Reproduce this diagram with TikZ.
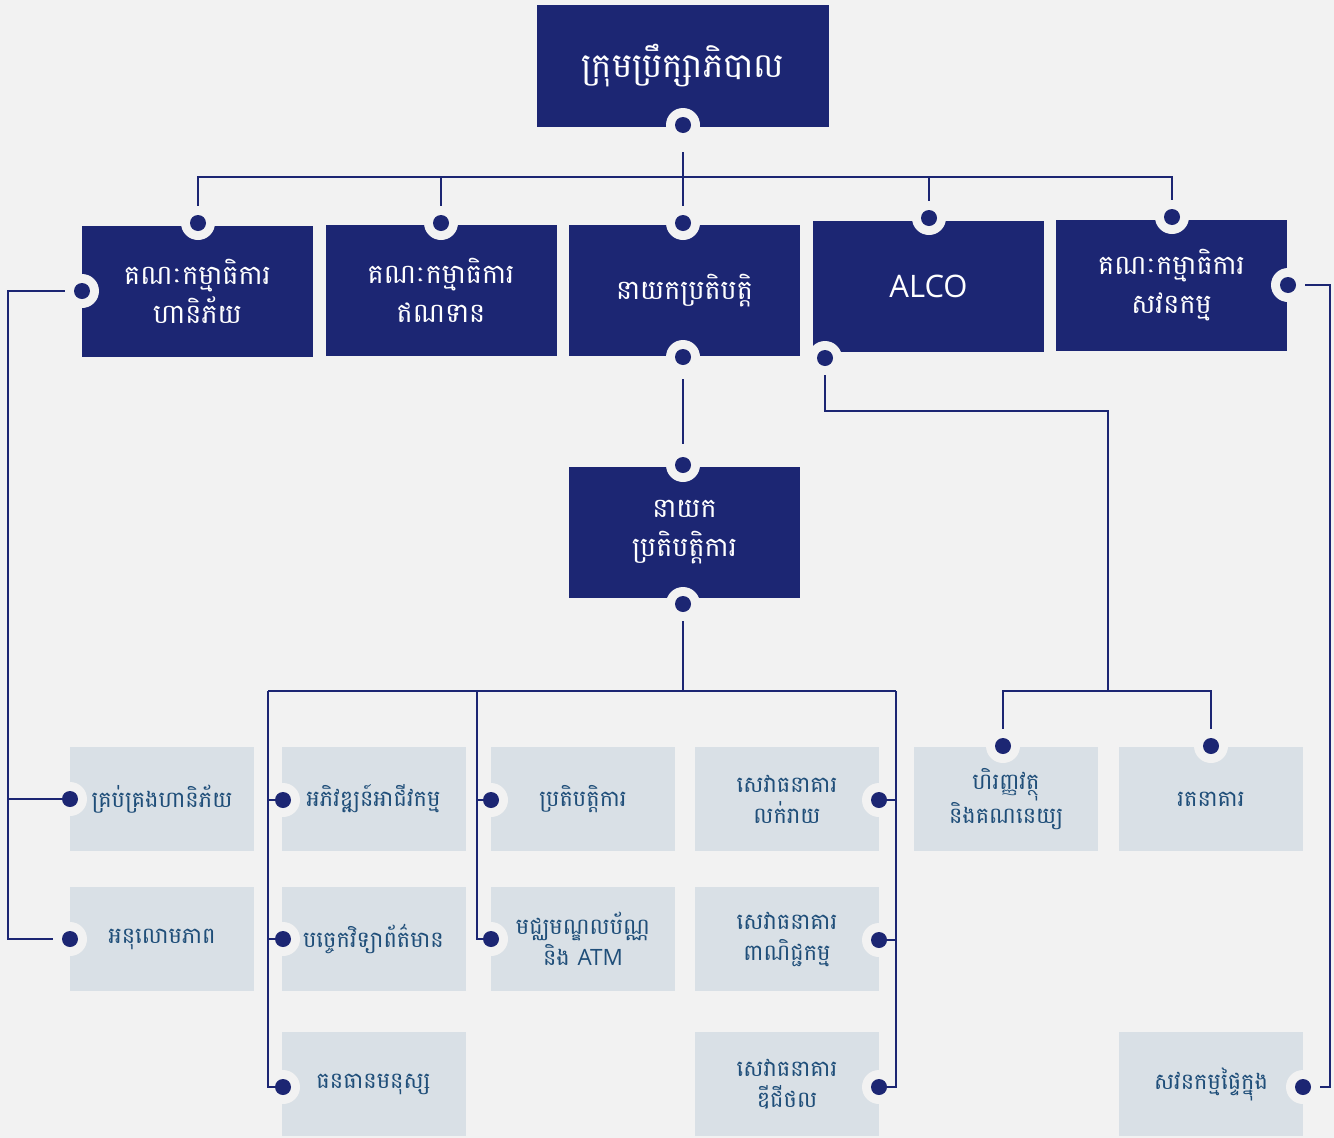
\documentclass[tikz,border=0pt]{standalone}
\usepackage{fontspec}
\newfontfamily\kh[Script=Khmer]{Battambang}
\newfontfamily\latfont{Open Sans}
\definecolor{bg}{HTML}{F2F2F2}
\definecolor{navy}{HTML}{1C2673}
\definecolor{lightbox}{HTML}{D9E0E6}
\definecolor{ltext}{HTML}{1F4E79}
\begin{document}
\begin{tikzpicture}[x=1pt,y=-1pt,
  darkbox/.style={fill=navy, minimum width=231, minimum height=131, text=white, align=center, inner sep=0, font=\kh\fontsize{27}{39}\selectfont},
  topbox/.style={darkbox, minimum width=292, minimum height=122, font=\kh\fontsize{34}{40}\selectfont},
  litebox/.style={fill=lightbox, minimum width=184, minimum height=104, text=ltext, align=center, inner sep=0, font=\kh\fontsize{22.5}{31}\selectfont},
  ring/.style={circle, fill=bg, minimum size=34, inner sep=0},
  dot/.style={circle, fill=navy, minimum size=16, inner sep=0},
  conn/.style={draw=navy, line width=2}]
\fill[bg] (0,0) rectangle (1334,1138);
% boxes
\node[topbox] (board) at (683,66) {\raisebox{3pt}{ក្រុមប្រឹក្សាភិបាល}};
\node[darkbox] (risk) at (197.5,291.5) {គណៈកម្មាធិការ\\ហានិភ័យ};
\node[darkbox] (credit) at (441,290.5) {គណៈកម្មាធិការ\\ឥណទាន};
\node[darkbox] (ceo) at (684.5,290.5) {នាយកប្រតិបត្តិ};
\node[darkbox, font=\latfont\fontsize{31}{34}\selectfont] (alco) at (928.5,286.5) {ALCO};
\node[darkbox] (audit) at (1171.5,285.5) {គណៈកម្មាធិការ\\សវនកម្ម};
\node[darkbox] (coo) at (684.5,532.5) {នាយក\\ប្រតិបត្តិការ};
\node[litebox] (l11) at (162,799) {គ្រប់គ្រងហានិភ័យ};
\node[litebox] (l12) at (162,939) {អនុលោមភាព};
\node[litebox] (l21) at (373.5,799) {អភិវឌ្ឍន៍អាជីវកម្ម};
\node[litebox] (l22) at (373.5,939) {បច្ចេកវិទ្យាព័ត៌មាន};
\node[litebox] (l23) at (373.5,1084) {ធនធានមនុស្ស};
\node[litebox] (l31) at (583,799) {ប្រតិបត្តិការ};
\node[litebox] (l32) at (583,939) {មជ្ឈមណ្ឌលប័ណ្ណ\\និង {\latfont ATM}};
\node[litebox] (l41) at (787,799) {សេវាធនាគារ\\លក់រាយ};
\node[litebox] (l42) at (787,939) {សេវាធនាគារ\\ពាណិជ្ជកម្ម};
\node[litebox] (l43) at (787,1084) {សេវាធនាគារ\\ឌីជីថល};
\node[litebox] (l51) at (1006,799) {ហិរញ្ញវត្ថុ\\និងគណនេយ្យ};
\node[litebox] (l61) at (1211,799) {រតនាគារ};
\node[litebox] (l62) at (1211,1084) {សវនកម្មផ្ទៃក្នុង};
% knobs: ring + dot
\foreach \n/\p in {kb/{683,125}, k1/{198,223}, k1l/{82,291}, k2/{441,223}, k3/{683,223}, k3b/{683,357},
  k4/{929,218}, k4b/{825,358}, k5/{1172,217}, k5r/{1288,285}, k6/{683,465}, k6b/{683,604},
  k11/{70,799}, k12/{70,939}, k21/{283,800}, k22/{283,939}, k23/{283,1087},
  k31/{491,800}, k32/{491,939}, k41/{879,800}, k42/{879,940}, k43/{879,1087},
  k51/{1003,746}, k61/{1211,746}, k62/{1303,1087}} {
  \node[ring] (\n) at (\p) {};
  \node[dot] (\n d) at (\p) {};
}
\coordinate (bus) at (0,177);
\coordinate (bus2) at (0,691);
\coordinate (alc) at (0,411);
\coordinate (jn) at (1108,691);
\coordinate (lx) at (8,0);
\coordinate (rx) at (1330,0);
\coordinate (v1) at (268,691);
\coordinate (v2) at (477,691);
\coordinate (v3) at (896,691);
% board to committees
\path[conn] ([yshift=-10]kb.south) -- (kb|-bus);
\path[conn] (k1) -- (k1|-bus) -- (k5|-bus) -- (k5);
\path[conn] (k2) -- (k2|-bus);
\path[conn] (k3) -- (k3|-bus);
\path[conn] (k4) -- (k4|-bus);
% ceo to coo
\path[conn, shorten <=5, shorten >=4] (k3b) -- (k6);
% coo to departments
\path[conn] (k6b) -- (k6b|-bus2);
\path[conn] (v1) -- (v3);
\path[conn] (v1) |- (k23d);
\path[conn] (v1|-k21d) -- (k21d);
\path[conn] (v1|-k22d) -- (k22d);
\path[conn] (v2) |- (k32d);
\path[conn] (v2|-k31d) -- (k31d);
\path[conn] (v3) |- (k43d);
\path[conn] (v3|-k41d) -- (k41d);
\path[conn] (v3|-k42d) -- (k42d);
% ALCO
\path[conn] (k4b) -- (k4b|-alc) -| (jn);
\path[conn] (k51) -- (k51|-jn) -- (k61|-jn) -- (k61);
% risk committee
\path[conn] (k1l) -- (k1l-|lx) |- (k12);
\path[conn] (lx|-k11d) -- (k11d);
% audit committee
\path[conn] (k5r) -- (k5r-|rx) |- (k62);
\end{tikzpicture}
\end{document}
